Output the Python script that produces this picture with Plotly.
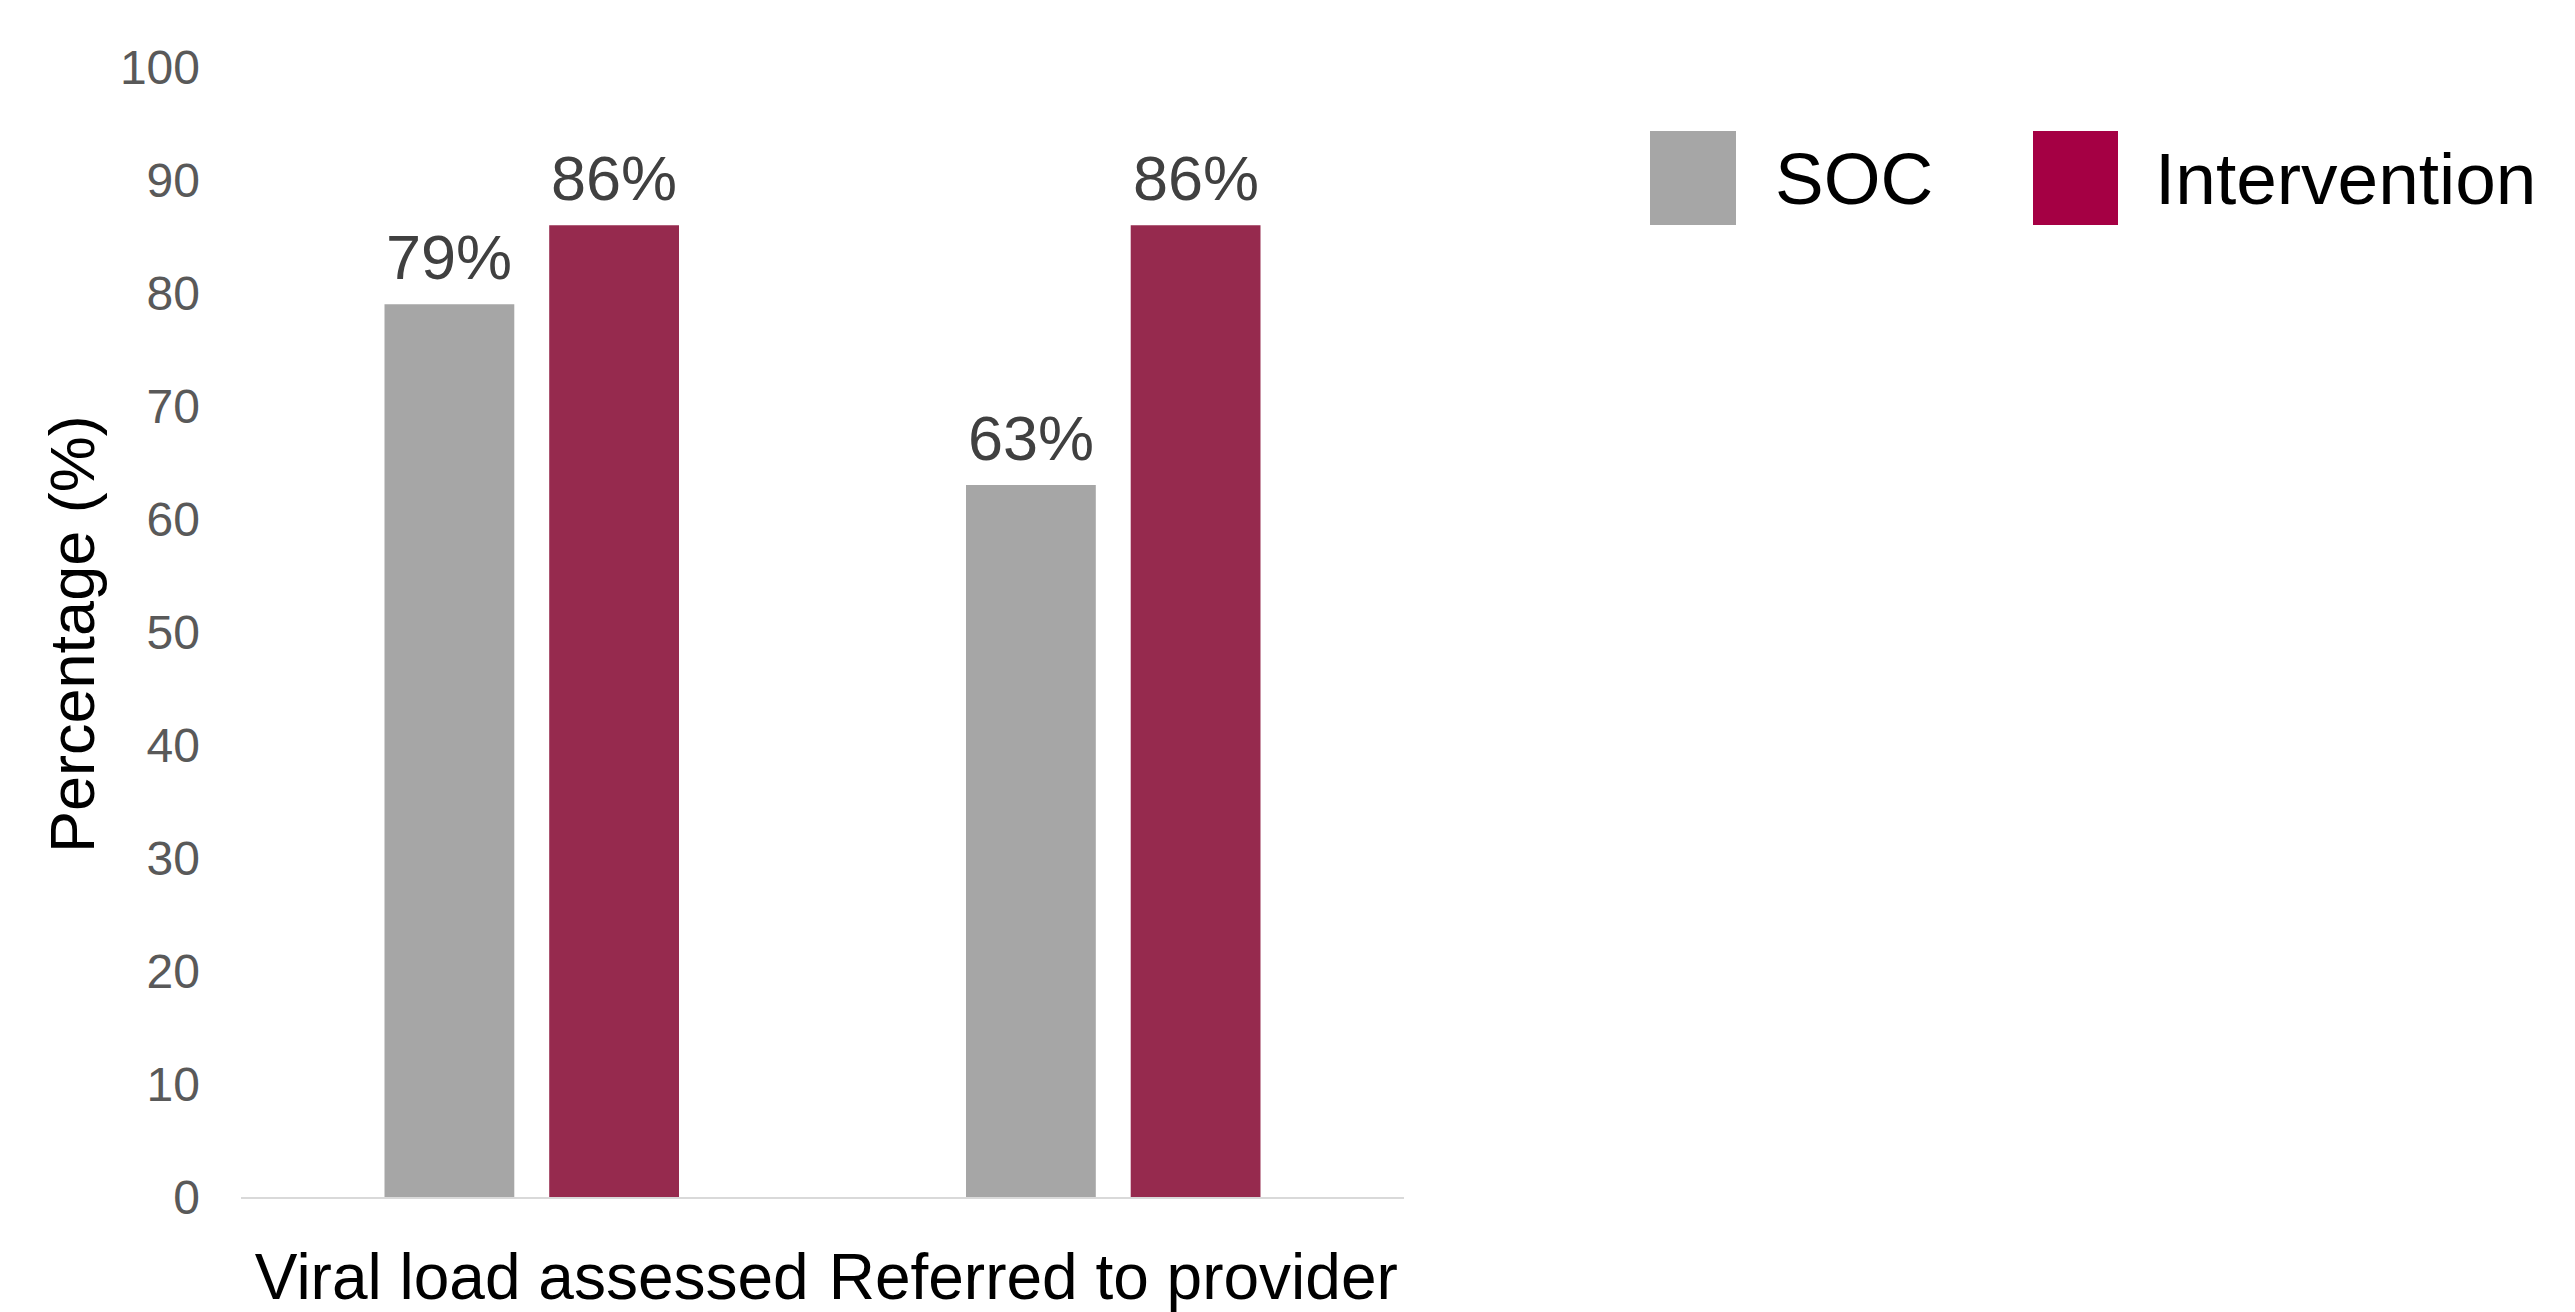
import plotly.graph_objects as go

categories = ["Viral load assessed", "Referred to provider"]
soc_values = [79, 63]
intervention_values = [86, 86]
series_names = ["SOC", "Intervention"]
y_ticks = [0, 10, 20, 30, 40, 50, 60, 70, 80, 90, 100]

W, H = 2575, 1312
L, R, T, B = 241, 1404, 67, 1197

def px(x):
    return (x - L) / (R - L)

def py(y):
    return (B - y) / (B - T)

font = "Liberation Sans, Arial, sans-serif"
label_font = dict(size=63, color="#404040", family=font)

fig = go.Figure()
fig.add_trace(go.Bar(
    x=categories, y=soc_values, name=series_names[0],
    marker=dict(color="#A6A6A6", line=dict(width=0)),
))
fig.add_trace(go.Bar(
    x=categories, y=intervention_values, name=series_names[1],
    marker=dict(color="#962A4E", line=dict(width=0)),
))

fig.update_layout(
    width=W, height=H,
    margin=dict(l=L, r=W - R, t=T, b=H - B, pad=0, autoexpand=False),
    paper_bgcolor="white", plot_bgcolor="white",
    barmode="group", bargap=0.4335, bargroupgap=0.212,
    showlegend=False,
    font=dict(family=font),
)
fig.update_xaxes(
    range=[-0.5, 1.5], showgrid=False, zeroline=False,
    showline=True, linecolor="#D9D9D9", linewidth=2,
    tickfont=dict(size=64, color="#000000", family=font),
    ticks="", ticklabelstandoff=23, automargin=False,
)
fig.update_yaxes(
    range=[0, 100], tickvals=y_ticks, showgrid=False, zeroline=False,
    showline=False, tickfont=dict(size=48, color="#595959", family=font),
    ticks="", ticklabelstandoff=40, automargin=False,
)

# value labels above bars
cat_px = (R - L) / len(categories)
offset_px = 0.1415 * cat_px
for vals, sign in ((soc_values, -1), (intervention_values, 1)):
    for cat, v in zip(categories, vals):
        fig.add_annotation(
            x=cat, y=v, xref="x", yref="y", text=f"{v}%",
            xshift=sign * offset_px, yshift=10,
            xanchor="center", yanchor="bottom", showarrow=False,
            font=label_font,
        )

# y-axis title
fig.add_annotation(
    text="Percentage (%)", textangle=-90, xref="paper", yref="paper",
    x=px(72), y=py(634), xanchor="center", yanchor="middle", showarrow=False,
    font=dict(size=63, color="#000000", family=font),
)

# custom legend
legend_items = [
    (series_names[0], "#A6A6A6", 1650, 1736, 1773),
    (series_names[1], "#A50044", 2033, 2118, 2153),
]
for name, color, x0, x1, tx in legend_items:
    fig.add_shape(
        type="rect", xref="paper", yref="paper",
        x0=px(x0), x1=px(x1), y0=py(225), y1=py(131),
        fillcolor=color, line=dict(width=0),
    )
    fig.add_annotation(
        text=name, xref="paper", yref="paper", x=px(tx), y=py(178),
        xanchor="left", yanchor="middle", showarrow=False,
        font=dict(size=73, color="#000000", family=font),
    )

fig.write_html(
    "out.html",
    config={"displayModeBar": False},
    post_script="document.body.style.margin='0';document.body.style.overflow='hidden';",
)
